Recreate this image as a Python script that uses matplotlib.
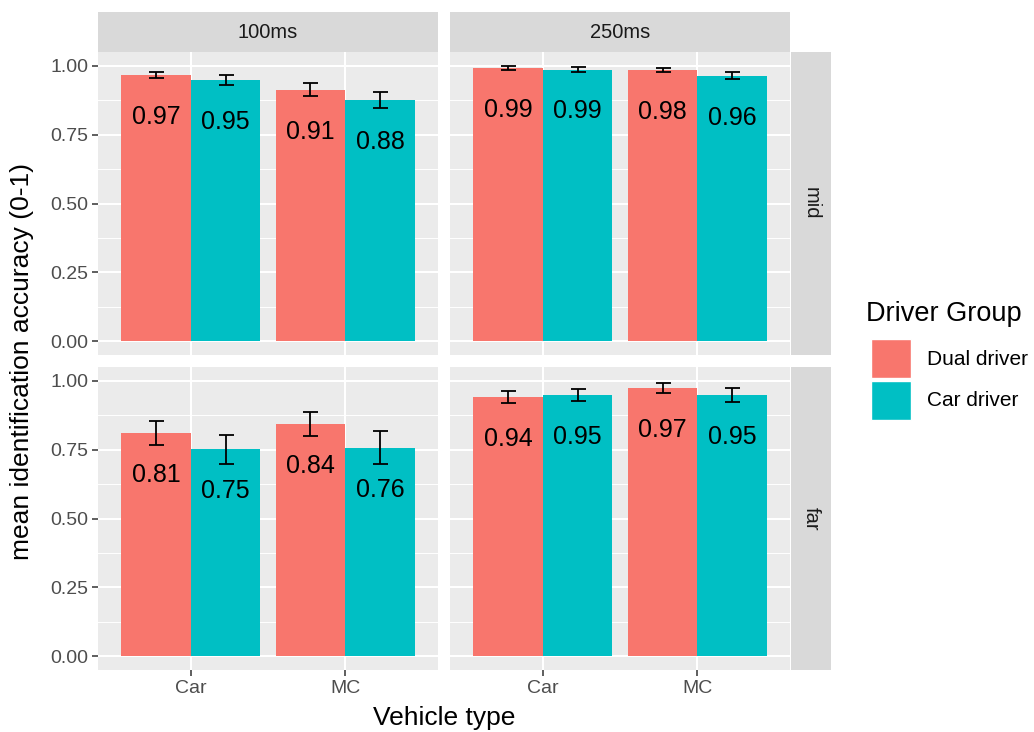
import matplotlib.pyplot as plt
from matplotlib.patches import Rectangle

plt.rcParams['font.family'] = ['Liberation Sans', 'DejaVu Sans']

vehicles = ['Car', 'MC']
groups = ['Dual driver', 'Car driver']
durations = ['100ms', '250ms']
distances = ['mid', 'far']
colors = ['#F8766D', '#00BFC4']

# means per vehicle (Car, MC) and half-width of error bar, one pair per facet
mid_100_dual = [0.967, 0.913]
mid_100_car = [0.947, 0.876]
mid_100_dual_err = [0.012, 0.023]
mid_100_car_err = [0.018, 0.028]

mid_250_dual = [0.993, 0.984]
mid_250_car = [0.986, 0.964]
mid_250_dual_err = [0.007, 0.008]
mid_250_car_err = [0.008, 0.013]

far_100_dual = [0.810, 0.844]
far_100_car = [0.751, 0.757]
far_100_dual_err = [0.044, 0.044]
far_100_car_err = [0.053, 0.059]

far_250_dual = [0.941, 0.973]
far_250_car = [0.948, 0.948]
far_250_dual_err = [0.023, 0.018]
far_250_car_err = [0.023, 0.024]

facets = {
    ('mid', '100ms'): (mid_100_dual, mid_100_car, mid_100_dual_err, mid_100_car_err),
    ('mid', '250ms'): (mid_250_dual, mid_250_car, mid_250_dual_err, mid_250_car_err),
    ('far', '100ms'): (far_100_dual, far_100_car, far_100_dual_err, far_100_car_err),
    ('far', '250ms'): (far_250_dual, far_250_car, far_250_dual_err, far_250_car_err),
}

W, H = 1034, 732
fig = plt.figure(figsize=(W / 100, H / 100), dpi=100)


def px_axes(x0, y0, x1, y1):
    return fig.add_axes([x0 / W, 1 - y1 / H, (x1 - x0) / W, (y1 - y0) / H])


col_x = [(98, 438), (450, 790)]
row_y = [(52, 355), (367, 670)]
strip_col = '#D9D9D9'
tick_col = '#4D4D4D'

for r, dist in enumerate(distances):
    for c, dur in enumerate(durations):
        ax = px_axes(col_x[c][0], row_y[r][0], col_x[c][1], row_y[r][1])
        ax.set_facecolor('#EBEBEB')
        for s in ax.spines.values():
            s.set_visible(False)
        ax.set_xlim(0.4, 2.6)
        ax.set_ylim(-0.05, 1.05)
        ax.set_yticks([0, 0.25, 0.5, 0.75, 1.0])
        ax.set_yticks([0.125, 0.375, 0.625, 0.875], minor=True)
        ax.set_xticks([1, 2])
        ax.grid(True, which='major', color='white', lw=1.5)
        ax.grid(True, which='minor', axis='y', color='white', lw=0.7)
        ax.set_axisbelow(True)
        ax.tick_params(which='minor', length=0)
        ax.tick_params(which='major', length=4, width=1.1, color='#333333',
                       labelcolor=tick_col, labelsize=14, pad=3)

        dual, car, dual_err, car_err = facets[(dist, dur)]
        xs = [1, 2]
        for g, (vals, errs) in enumerate([(dual, dual_err), (car, car_err)]):
            pos = [x + (g - 0.5) * 0.45 for x in xs]
            ax.bar(pos, vals, width=0.45, color=colors[g], zorder=2)
            ax.errorbar(pos, vals, yerr=errs, fmt='none', ecolor='black',
                        elinewidth=1.3, capsize=5.4, capthick=1.3, zorder=3)
            for p, v in zip(pos, vals):
                ax.text(p, v - 0.152, f'{v:.2f}', ha='center', va='center',
                        fontsize=18, color='black', zorder=4)

        if c == 0:
            ax.set_yticklabels(['0.00', '0.25', '0.50', '0.75', '1.00'])
        else:
            ax.tick_params(axis='y', length=0, labelleft=False)
        if r == 1:
            ax.set_xticklabels(vehicles)
        else:
            ax.tick_params(axis='x', length=0, labelbottom=False)

        # top strips
        if r == 0:
            sax = px_axes(col_x[c][0], 12, col_x[c][1], 52)
            sax.set_facecolor(strip_col)
            sax.set_xticks([])
            sax.set_yticks([])
            for s in sax.spines.values():
                s.set_visible(False)
            sax.text(0.5, 0.5, dur, ha='center', va='center', fontsize=14.5,
                     color='#1A1A1A', transform=sax.transAxes)
        # right strips
        if c == 1:
            sax = px_axes(791, row_y[r][0], 831, row_y[r][1])
            sax.set_facecolor(strip_col)
            sax.set_xticks([])
            sax.set_yticks([])
            for s in sax.spines.values():
                s.set_visible(False)
            sax.text(0.5, 0.5, dist, ha='center', va='center', fontsize=14.5,
                     color='#1A1A1A', rotation=270, transform=sax.transAxes)

fig.text(444 / W, 1 - 718 / H, 'Vehicle type', ha='center', va='center', fontsize=19)
fig.text(22 / W, 1 - 361 / H, 'mean identification accuracy (0-1)', ha='center',
         va='center', rotation=90, fontsize=19)

# legend
fig.text(866 / W, 1 - 314 / H, 'Driver Group', ha='left', va='center', fontsize=19.5)
for i, (lab, col) in enumerate(zip(groups, colors)):
    y0 = 339 + i * 42
    fig.patches.append(Rectangle((871 / W, 1 - (y0 + 39) / H), 40 / W, 39 / H,
                                 facecolor=col, edgecolor='white', lw=1,
                                 transform=fig.transFigure, figure=fig))
    fig.text(927 / W, 1 - (y0 + 20) / H, lab, ha='left', va='center', fontsize=15)

fig.savefig('out.png', dpi=100)
